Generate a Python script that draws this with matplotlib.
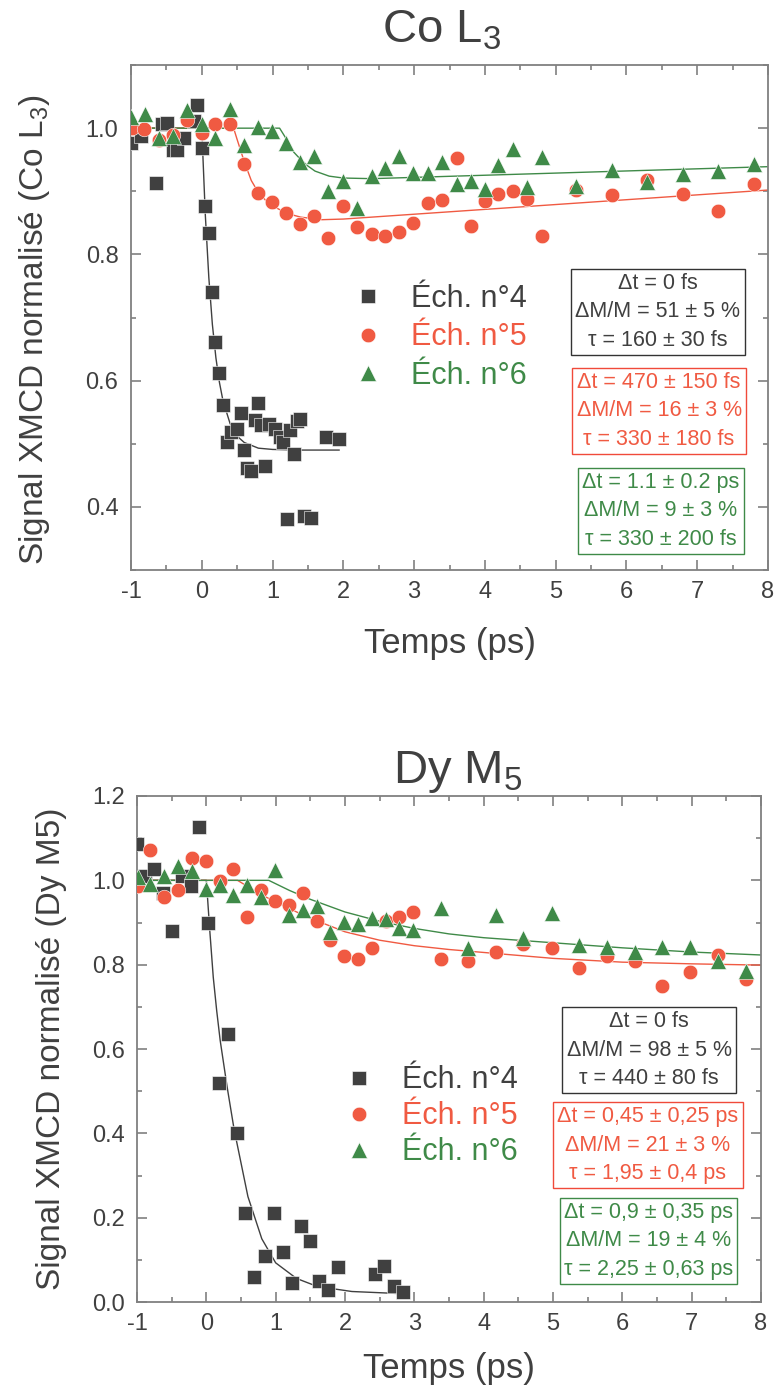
"""
Co L3 / Dy M5 normalised XMCD signal vs pump-probe delay for samples 4, 5, 6.
"""
import matplotlib

matplotlib.use("Agg")
import matplotlib.pyplot as plt
from matplotlib.ticker import MultipleLocator

plt.rcParams["font.family"] = ["Liberation Sans", "DejaVu Sans"]
plt.rcParams["mathtext.fontset"] = "custom"
plt.rcParams["mathtext.rm"] = "Liberation Sans"
plt.rcParams["mathtext.it"] = "Liberation Sans"
plt.rcParams["mathtext.default"] = "regular"
plt.rcParams["axes.unicode_minus"] = False

GREY = "#404040"
RED = "#f05a42"
GREEN = "#3f8a48"
AXIS = "#808080"

LABELS = ["Éch. n°4", "Éch. n°5", "Éch. n°6"]

# ---- Co L3 : measured points ----
co_t4 = [-1.0, -0.86, -0.64, -0.56, -0.49, -0.40, -0.35, -0.25, -0.11, -0.065, 0.0, 0.04,
         0.10, 0.15, 0.19, 0.25, 0.30, 0.36, 0.41, 0.50, 0.55, 0.59, 0.64, 0.69, 0.75,
         0.79, 0.83, 0.90, 0.95, 1.03, 1.10, 1.15, 1.21, 1.24, 1.30, 1.34, 1.39, 1.45,
         1.55, 1.75, 1.94]
co_s4 = [0.977, 0.987, 0.913, 1.006, 1.008, 0.965, 0.966, 0.985, 1.011, 1.037, 0.968, 0.877,
         0.834, 0.740, 0.661, 0.612, 0.562, 0.502, 0.518, 0.523, 0.549, 0.490, 0.461, 0.457,
         0.537, 0.565, 0.529, 0.464, 0.531, 0.523, 0.511, 0.502, 0.381, 0.521, 0.483, 0.536,
         0.540, 0.385, 0.383, 0.510, 0.508]

co_t5 = [-0.98, -0.81, -0.61, -0.40, -0.21, 0.0, 0.19, 0.40, 0.59, 0.80, 0.99, 1.19, 1.39,
         1.59, 1.79, 2.00, 2.20, 2.40, 2.59, 2.79, 2.99, 3.19, 3.40, 3.60, 3.80, 4.00, 4.19,
         4.40, 4.60, 4.80, 5.29, 5.80, 6.29, 6.80, 7.29, 7.80]
co_s5 = [1.000, 0.998, 0.981, 0.989, 1.013, 0.993, 1.006, 1.007, 0.944, 0.898, 0.883, 0.865,
         0.848, 0.861, 0.826, 0.877, 0.843, 0.833, 0.829, 0.835, 0.850, 0.881, 0.886, 0.952,
         0.845, 0.885, 0.896, 0.901, 0.887, 0.829, 0.902, 0.894, 0.918, 0.896, 0.869, 0.912]

co_t6 = [-1.0, -0.80, -0.60, -0.40, -0.21, 0.0, 0.19, 0.40, 0.59, 0.80, 0.99, 1.19, 1.39,
         1.59, 1.79, 2.00, 2.20, 2.40, 2.59, 2.79, 2.99, 3.19, 3.40, 3.60, 3.80, 4.00, 4.19,
         4.40, 4.60, 4.80, 5.29, 5.80, 6.29, 6.80, 7.29, 7.80]
co_s6 = [1.017, 1.023, 0.984, 0.987, 1.029, 1.006, 0.984, 1.030, 0.974, 1.002, 0.995, 0.976,
         0.946, 0.956, 0.900, 0.917, 0.874, 0.924, 0.937, 0.956, 0.929, 0.929, 0.947, 0.912,
         0.917, 0.903, 0.941, 0.967, 0.906, 0.954, 0.908, 0.933, 0.915, 0.928, 0.932, 0.944]

# ---- Co L3 : fit curves ----
co_fit_t4 = [-1.0, 0.0, 0.05, 0.10, 0.15, 0.20, 0.25, 0.30, 0.40, 0.50, 0.60, 0.80, 1.00, 1.40, 1.94]
co_fit_s4 = [1.0, 1.0, 0.863, 0.763, 0.689, 0.636, 0.597, 0.568, 0.532, 0.512, 0.502, 0.493, 0.491, 0.490, 0.490]
co_fit_t5 = [-1.0, 0.45, 0.50, 0.60, 0.70, 0.80, 0.90, 1.00, 1.20, 1.40, 1.70, 2.00, 8.00]
co_fit_s5 = [1.0, 1.0, 0.982, 0.947, 0.917, 0.898, 0.886, 0.877, 0.865, 0.859, 0.855, 0.856, 0.902]
co_fit_t6 = [-1.0, 1.10, 1.20, 1.30, 1.40, 1.50, 1.60, 1.80, 2.00, 2.40, 8.00]
co_fit_s6 = [1.0, 1.0, 0.982, 0.962, 0.950, 0.940, 0.932, 0.924, 0.921, 0.920, 0.939]

co_boxes = [
    "Δt = 0 fs\nΔM/M = 51 ± 5 %\nτ = 160 ± 30 fs",
    "Δt = 470 ± 150 fs\nΔM/M = 16 ± 3 %\nτ = 330 ± 180 fs",
    "Δt = 1.1 ± 0.2 ps\nΔM/M = 9 ± 3 %\nτ = 330 ± 200 fs",
]

# ---- Dy M5 : measured points ----
dy_t4 = [-1.0, -0.89, -0.76, -0.63, -0.50, -0.35, -0.22, -0.10, 0.03, 0.18, 0.31, 0.44,
         0.56, 0.69, 0.84, 0.97, 1.10, 1.23, 1.37, 1.50, 1.63, 1.76, 1.90, 2.44, 2.57,
         2.70, 2.83]
dy_s4 = [1.085, 1.010, 1.026, 0.969, 0.880, 1.010, 0.986, 1.126, 0.900, 0.520, 0.635, 0.401,
         0.210, 0.060, 0.110, 0.210, 0.119, 0.046, 0.180, 0.145, 0.050, 0.028, 0.082, 0.066,
         0.086, 0.039, 0.023]

dy_t5 = [-0.99, -0.81, -0.61, -0.41, -0.21, -0.01, 0.19, 0.39, 0.59, 0.79, 0.99, 1.19, 1.39,
         1.59, 1.79, 1.99, 2.19, 2.39, 2.59, 2.78, 2.98, 3.38, 3.78, 4.18, 4.57, 4.98, 5.38,
         5.78, 6.18, 6.58, 6.98, 7.38, 7.78]
dy_s5 = [0.987, 1.072, 0.961, 0.978, 1.052, 1.047, 0.999, 1.027, 0.914, 0.977, 0.950, 0.942,
         0.969, 0.903, 0.859, 0.821, 0.813, 0.839, 0.903, 0.912, 0.926, 0.813, 0.809, 0.831,
         0.849, 0.839, 0.793, 0.821, 0.808, 0.750, 0.783, 0.823, 0.767]

dy_t6 = [-0.99, -0.81, -0.61, -0.41, -0.21, -0.01, 0.19, 0.39, 0.59, 0.79, 0.99, 1.19, 1.39,
         1.59, 1.79, 1.99, 2.19, 2.39, 2.59, 2.78, 2.98, 3.38, 3.78, 4.18, 4.57, 4.98, 5.38,
         5.78, 6.18, 6.58, 6.98, 7.38, 7.78]
dy_s6 = [1.007, 0.991, 1.011, 1.035, 1.023, 0.980, 0.989, 0.965, 0.990, 0.961, 1.025, 0.918,
         0.930, 0.938, 0.878, 0.902, 0.896, 0.910, 0.908, 0.886, 0.882, 0.934, 0.839, 0.918,
         0.863, 0.922, 0.846, 0.843, 0.831, 0.843, 0.843, 0.808, 0.785]

# ---- Dy M5 : fit curves ----
dy_fit_t4 = [-1.0, 0.0, 0.05, 0.10, 0.15, 0.20, 0.30, 0.40, 0.50, 0.60, 0.80, 1.00, 1.30, 1.60, 2.10, 2.80]
dy_fit_s4 = [1.0, 1.0, 0.88, 0.77, 0.69, 0.62, 0.51, 0.41, 0.33, 0.25, 0.15, 0.093, 0.056, 0.037, 0.025, 0.020]
dy_fit_t5 = [-1.0, 0.45, 0.70, 1.00, 1.50, 2.00, 2.50, 3.00, 3.50, 4.00, 5.00, 6.00, 7.00, 8.00]
dy_fit_s5 = [1.0, 1.0, 0.975, 0.948, 0.910, 0.878, 0.858, 0.845, 0.836, 0.829, 0.815, 0.806, 0.802, 0.799]
dy_fit_t6 = [-1.0, 0.90, 1.20, 1.50, 2.00, 2.50, 3.00, 3.50, 4.00, 5.00, 6.00, 7.00, 8.00]
dy_fit_s6 = [1.0, 1.0, 0.976, 0.955, 0.925, 0.903, 0.886, 0.873, 0.864, 0.852, 0.840, 0.830, 0.823]

dy_boxes = [
    "Δt = 0 fs\nΔM/M = 98 ± 5 %\nτ = 440 ± 80 fs",
    "Δt = 0,45 ± 0,25 ps\nΔM/M = 21 ± 3 %\nτ = 1,95 ± 0,4 ps",
    "Δt = 0,9 ± 0,35 ps\nΔM/M = 19 ± 4 %\nτ = 2,25 ± 0,63 ps",
]


def style_axes(ax, ymin, ymax, ymajor, xlabelpad):
    ax.set_xlim(-1, 8)
    ax.set_ylim(ymin, ymax)
    ax.xaxis.set_major_locator(MultipleLocator(1))
    ax.xaxis.set_minor_locator(MultipleLocator(0.5))
    ax.yaxis.set_major_locator(MultipleLocator(ymajor))
    ax.yaxis.set_minor_locator(MultipleLocator(0.1))
    ax.tick_params(which="both", direction="in", top=True, right=True,
                   color=AXIS, width=1.2, labelcolor=GREY, labelsize=17)
    ax.tick_params(which="major", length=7)
    ax.tick_params(which="minor", length=3.5)
    ax.tick_params(axis="x", pad=8)
    ax.tick_params(axis="y", pad=9)
    for sp in ax.spines.values():
        sp.set_color(AXIS)
        sp.set_linewidth(1.3)
    ax.set_xlabel("Temps (ps)", fontsize=25, color=GREY, labelpad=xlabelpad)


def draw_panel(ax, pts, fits, boxes, box_pos, legend_anchor, spacing):
    colors = [GREY, RED, GREEN]
    markers = ["s", "o", "^"]
    sizes = [10, 10.5, 11]
    for (ft, fs), c in zip(fits, colors):
        ax.plot(ft, fs, color=c, linewidth=1.0, zorder=2)
    handles = []
    for (t, s), c, m, ms, lab in zip(pts, colors, markers, sizes, LABELS):
        h, = ax.plot(t, s, linestyle="none", marker=m, markersize=ms, color=c,
                     markeredgecolor="white", markeredgewidth=0.4, label=lab, zorder=3)
        handles.append(h)
    leg = ax.legend(handles=handles, loc="upper left", bbox_to_anchor=legend_anchor,
                    frameon=False, fontsize=22, handlelength=1.0, handletextpad=0.9,
                    labelspacing=spacing, borderpad=0, borderaxespad=0)
    for txt, c in zip(leg.get_texts(), colors):
        txt.set_color(c)
    edge = ["#333333", "#f04a3a", GREEN]
    for text, (bx, by), c, ec in zip(boxes, box_pos, colors, edge):
        ax.text(bx, by, text, transform=ax.transAxes, ha="center", va="center",
                fontsize=15.5, color=c, linespacing=1.45, multialignment="center",
                bbox=dict(boxstyle="square,pad=0.2", facecolor="white",
                          edgecolor=ec, linewidth=1.0), zorder=5)


fig = plt.figure(figsize=(7.75, 13.96), dpi=100)

ax1 = fig.add_axes([0.169, 0.5917, 0.822, 0.3617])
style_axes(ax1, 0.3, 1.1, 0.2, 17)
ax1.set_ylabel("Signal XMCD normalisé (Co L$_3$)", fontsize=24, color=GREY)
ax1.yaxis.set_label_coords(-0.124, 0.475)
draw_panel(
    ax1,
    [(co_t4, co_s4), (co_t5, co_s5), (co_t6, co_s6)],
    [(co_fit_t4, co_fit_s4), (co_fit_t5, co_fit_s5), (co_fit_t6, co_fit_s6)],
    co_boxes,
    [(0.827, 0.511), (0.829, 0.315), (0.832, 0.117)],
    (0.3485, 0.567),
    0.28,
)
ax1.text(0.487, 1.0455, "Co L$_3$", transform=ax1.transAxes, ha="center",
         va="baseline", fontsize=34, color=GREY)

ax2 = fig.add_axes([0.1768, 0.0673, 0.805, 0.3625])
style_axes(ax2, 0.0, 1.2, 0.2, 12)
ax2.set_ylabel("Signal XMCD normalisé (Dy M5)", fontsize=24, color=GREY)
ax2.yaxis.set_label_coords(-0.113, 0.5)
draw_panel(
    ax2,
    [(dy_t4, dy_s4), (dy_t5, dy_s5), (dy_t6, dy_s6)],
    [(dy_fit_t4, dy_fit_s4), (dy_fit_t5, dy_fit_s5), (dy_fit_t6, dy_fit_s6)],
    dy_boxes,
    [(0.821, 0.498), (0.819, 0.310), (0.820, 0.121)],
    (0.331, 0.468),
    0.2,
)
ax2.text(0.515, 1.0257, "Dy M$_5$", transform=ax2.transAxes, ha="center",
         va="baseline", fontsize=34, color=GREY)

fig.savefig("out.png", dpi=100)
